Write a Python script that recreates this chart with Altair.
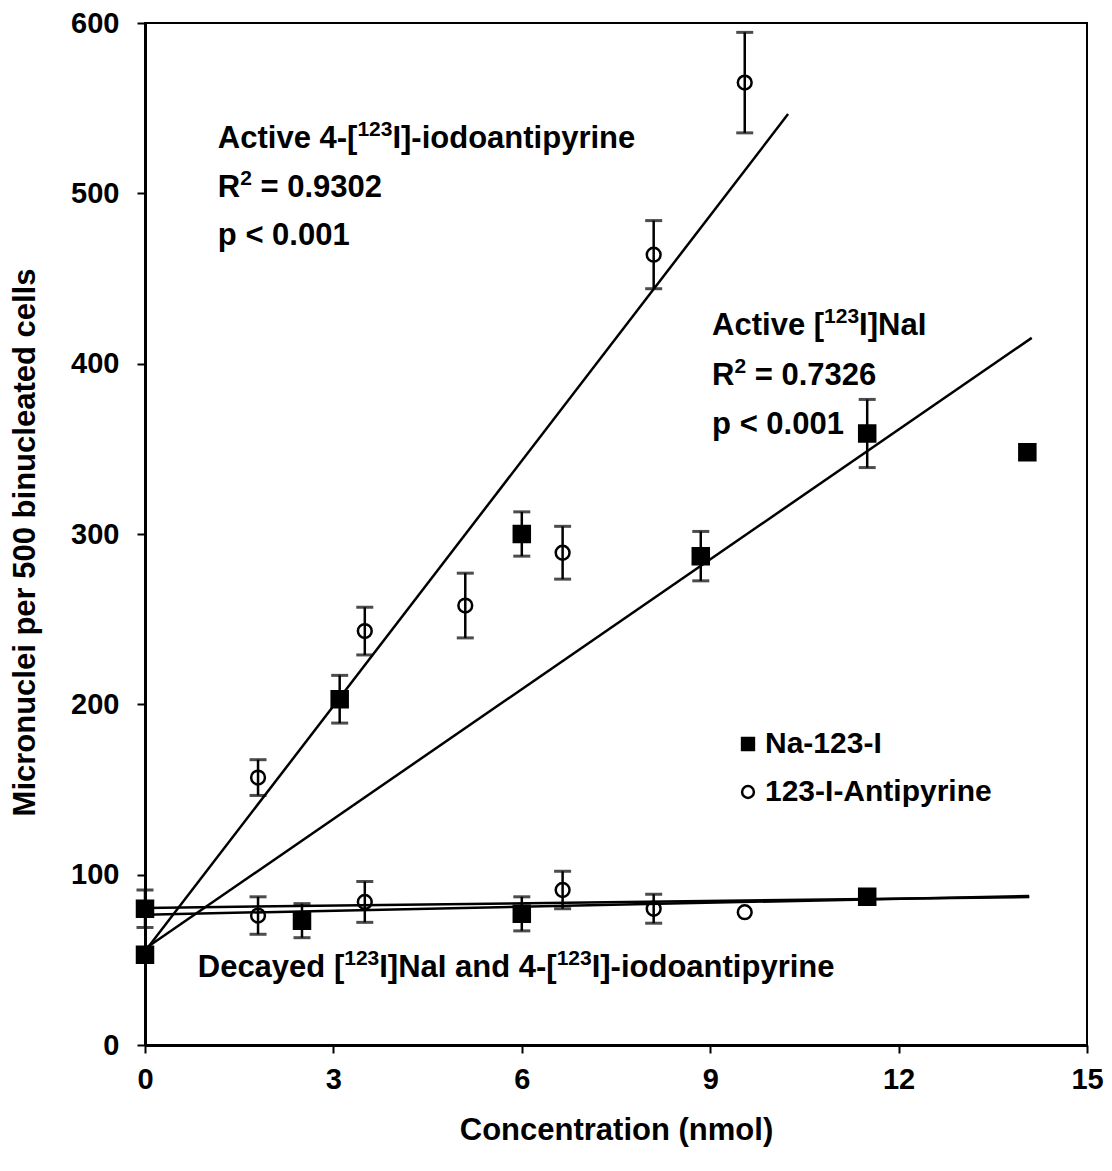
import altair as alt
import pandas as pd

FONT = "Liberation Sans"
TEXT_SIZE = 31
SUP_SIZE = 21
PLOT_W = 942
PLOT_H = 1022
X_MAX = 15

# Na-123-I (filled squares): concentration (nmol), micronuclei per 500 BN cells, error
na_conc = [0, 0, 2.5, 3.1, 6.0, 6.0, 8.85, 11.5, 11.5, 14.05]
na_mn = [80, 53, 73, 203, 300, 77, 287, 359, 87, 348]
na_err = [11, 0, 10, 14, 13, 10, 14.5, 20, 0, 0]

# 123-I-Antipyrine (open circles)
ap_conc = [1.8, 3.5, 5.1, 6.65, 8.1, 9.55, 1.8, 3.5, 6.65, 8.1, 9.55]
ap_mn = [157, 243, 258, 289, 464, 565, 76, 84, 91, 80, 78]
ap_err = [10.5, 14, 19, 15.5, 20, 29.5, 11, 12, 11, 8.5, 0]

# Linear regression fits: intercept, slope, upper end of the fitted range
fit_names = ["Active antipyrine", "Active NaI", "Decayed NaI", "Decayed antipyrine"]
fit_intercept = [55, 56.5, 80.5, 76.5]
fit_slope = [48.0, 25.4, 0.45, 0.78]
fit_xmax = [10.24, 14.12, 14.08, 14.08]

# Annotation lines: anchor (left edge, vertical centre) and text runs;
# runs flagged True are superscripts
note_x = [1.16, 1.16, 1.16, 9.03, 9.03, 9.03, 0.84]
note_y = [532, 503, 475, 422, 393, 364, 45]
note_runs = [
    [("Active 4-[", False), ("123", True), ("I]-iodoantipyrine", False)],
    [("R", False), ("2", True), (" = 0.9302", False)],
    [("p < 0.001", False)],
    [("Active [", False), ("123", True), ("I]NaI", False)],
    [("R", False), ("2", True), (" = 0.7326", False)],
    [("p < 0.001", False)],
    [("Decayed [", False), ("123", True), ("I]NaI and 4-[", False), ("123", True),
     ("I]-iodoantipyrine", False)],
]

series_names = ["Na-123-I", "123-I-Antipyrine"]

# Advance widths of the bold sans face (units per 1000 em), used to chain text runs
ADV = {" ": 278, "-": 333, "[": 333, "]": 333, ".": 278, "=": 584, "<": 584,
       "A": 722, "D": 722, "I": 278, "N": 722, "R": 722,
       "a": 556, "c": 556, "d": 611, "e": 556, "i": 278, "l": 278, "n": 611,
       "o": 611, "p": 611, "r": 389, "t": 333, "v": 556, "y": 556}
for digit in "0123456789":
    ADV[digit] = 556


def run_width(text, size):
    return sum(ADV.get(ch, 556) for ch in text) * size / 1000.0


pts = pd.DataFrame(
    {"conc": na_conc + ap_conc,
     "mn": na_mn + ap_mn,
     "err": na_err + ap_err,
     "series": [series_names[0]] * len(na_conc) + [series_names[1]] * len(ap_conc)}
)
pts["lo"] = pts["mn"] - pts["err"]
pts["hi"] = pts["mn"] + pts["err"]
bars = pts[pts["err"] > 0]

fit_rows = []
for n, b, m, xm in zip(fit_names, fit_intercept, fit_slope, fit_xmax):
    fit_rows.append({"fit": n, "conc": 0.0, "mn": b})
    fit_rows.append({"fit": n, "conc": xm, "mn": b + m * xm})
fits = pd.DataFrame(fit_rows)

# chain the runs of each line: pixel advance converted to x-axis units;
# leading blanks are turned into offset since SVG text drops them
px_per_unit = PLOT_W / X_MAX
run_rows = []
for x0, y0, runs in zip(note_x, note_y, note_runs):
    offset = 0.0
    for text, sup in runs:
        size = SUP_SIZE if sup else TEXT_SIZE
        body = text.lstrip(" ")
        lead = run_width(text[: len(text) - len(body)], size)
        run_rows.append({"conc": x0 + (offset + lead) / px_per_unit, "mn": y0,
                         "text": body, "sup": sup})
        offset += run_width(text, size)
runs_df = pd.DataFrame(run_rows)
normal_runs = runs_df[~runs_df["sup"]]
sup_runs = runs_df[runs_df["sup"]]

x_scale = alt.Scale(domain=[0, X_MAX], nice=False, zero=False)
y_scale = alt.Scale(domain=[0, 600], nice=False)

x_enc = alt.X(
    "conc:Q", scale=x_scale,
    axis=alt.Axis(
        values=[0, 3, 6, 9, 12, 15], format="d", title="Concentration (nmol)",
        grid=False, tickSize=8, tickWidth=2, tickColor="black",
        domainColor="black", domainWidth=3,
        labelFont=FONT, labelFontSize=29, labelFontWeight="bold", labelColor="black",
        labelPadding=12, labelFlush=False,
        titleFont=FONT, titleFontSize=31, titleFontWeight="bold", titleColor="black",
        titleX=471, titleY=85, titleBaseline="middle",
    ),
)
y_enc = alt.Y(
    "mn:Q", scale=y_scale,
    axis=alt.Axis(
        values=[0, 100, 200, 300, 400, 500, 600], format="d",
        title="Micronuclei per 500 binucleated cells",
        grid=False, tickSize=8, tickWidth=2, tickColor="black",
        domainColor="black", domainWidth=3,
        labelFont=FONT, labelFontSize=29, labelFontWeight="bold", labelColor="black",
        labelPadding=18, labelFlush=False,
        titleFont=FONT, titleFontSize=31, titleFontWeight="bold", titleColor="black",
        titleX=-120, titleY=519, titleAngle=-90, titleBaseline="middle", titleAlign="center",
    ),
)

lines = alt.Chart(fits).mark_line(color="black", strokeWidth=2.5, clip=False).encode(
    x=x_enc, y=y_enc, detail="fit:N"
)

err_rule = alt.Chart(bars).mark_rule(color="black", strokeWidth=2.5).encode(
    x="conc:Q", y="lo:Q", y2="hi:Q"
)
cap_lo = alt.Chart(bars).mark_tick(
    color="black", thickness=3, size=17, orient="horizontal"
).encode(x="conc:Q", y="lo:Q")
cap_hi = alt.Chart(bars).mark_tick(
    color="black", thickness=3, size=17, orient="horizontal"
).encode(x="conc:Q", y="hi:Q")

legend_cfg = alt.Legend(
    title=None, orient="none", legendX=588, legendY=706, padding=0,
    labelFont=FONT, labelFontSize=30, labelFontWeight="bold", labelColor="black",
    labelLimit=500, symbolSize=140, symbolStrokeWidth=2.5, symbolStrokeColor="black",
    rowPadding=18, labelOffset=2,
)

points = alt.Chart(pts).mark_point(strokeWidth=2.5, opacity=1, clip=False).encode(
    x="conc:Q",
    y="mn:Q",
    shape=alt.Shape(
        "series:N",
        scale=alt.Scale(domain=series_names, range=["square", "circle"]),
        legend=legend_cfg,
    ),
    fill=alt.Fill(
        "series:N",
        scale=alt.Scale(domain=series_names, range=["black", "transparent"]),
        legend=legend_cfg,
    ),
    stroke=alt.Stroke(
        "series:N",
        scale=alt.Scale(domain=series_names, range=["black", "black"]),
        legend=legend_cfg,
    ),
    size=alt.condition(alt.datum.series == series_names[0], alt.value(256), alt.value(190)),
)

text_main = alt.Chart(normal_runs).mark_text(
    align="left", baseline="middle", font=FONT, fontSize=TEXT_SIZE,
    fontWeight="bold", color="black",
).encode(x="conc:Q", y="mn:Q", text="text:N")
text_sup = alt.Chart(sup_runs).mark_text(
    align="left", baseline="middle", font=FONT, fontSize=SUP_SIZE,
    fontWeight="bold", color="black", dy=-9,
).encode(x="conc:Q", y="mn:Q", text="text:N")

chart = (
    alt.layer(lines, err_rule, cap_lo, cap_hi, points, text_main, text_sup)
    .properties(
        width=PLOT_W, height=PLOT_H,
        autosize=alt.AutoSizeParams(type="none"),
        padding={"left": 145, "top": 23, "right": 25, "bottom": 126},
        background="white",
    )
    .configure_view(stroke="black", strokeWidth=2)
)

chart.save("out.html", embed_options={"renderer": "svg", "actions": False})
